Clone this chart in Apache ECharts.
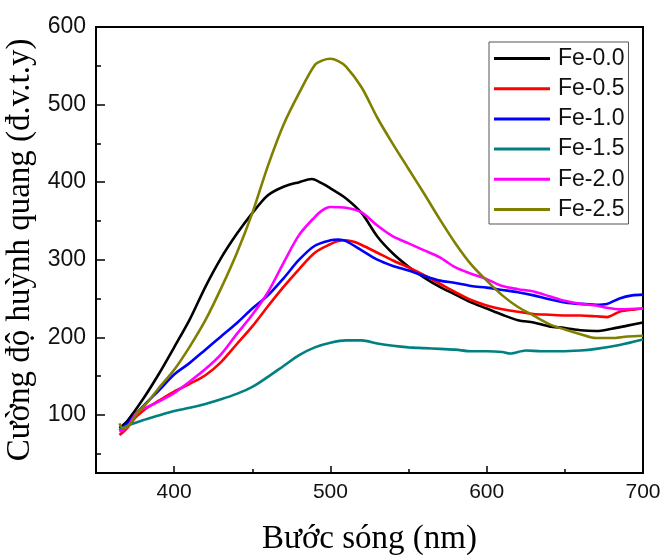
<!DOCTYPE html>
<html>
<head>
<meta charset="utf-8">
<script src="https://cdn.jsdelivr.net/npm/echarts@6/dist/echarts.min.js"></script>
<style>
html,body{margin:0;padding:0;background:#fff;}
#chart{width:664px;height:555px;}
</style>
</head>
<body>
<div id="chart"></div>
<script>
const seriesNames = ['Fe-0.0','Fe-0.5','Fe-1.0','Fe-1.5','Fe-2.0','Fe-2.5'];

const wlFe00 = [365,370,380,390,400,410,420,430,440,450,460,470,480,488,495,500,510,520,530,540,550,560,570,580,590,600,610,620,630,640,650,660,670,680,690,700];
const valFe00 = [83,92,120,152,187,223,265,302,333,360,383,394,400,404,398,392,379,360,330,308,291,277,265,255,245,237,229,222,219,214,212,209,208,211,215,219];

const wlFe05 = [365,370,375,380,385,390,395,400,410,420,430,440,450,460,470,480,490,500,505,510,515,520,530,540,550,560,570,580,590,600,610,620,630,640,650,660,670,677,685,695,700];
const valFe05 = [74,83,96,105,112,118,124,130,140,151,168,191,214,240,265,288,309,320,324,325,323,319,309,299,290,280,269,258,248,241,236,233,230,229,228,228,227,226,233,236,237];

const wlFe10 = [365,370,380,390,400,410,420,430,440,450,460,470,480,490,500,505,510,520,530,540,550,560,570,580,590,600,610,620,630,640,650,660,670,677,685,693,700];
const valFe10 = [80,89,111,131,152,167,184,201,218,237,254,276,300,318,325,326,324,312,300,292,286,279,273,270,266,264,261,258,254,249,245,243,242,243,250,254,255];

const wlFe15 = [365,370,380,390,400,410,420,430,440,450,460,470,480,490,500,510,520,530,540,550,560,570,580,590,600,610,615,625,635,647,660,670,685,700];
const valFe15 = [80,86,93,99,105,109,114,120,127,136,149,163,177,187,193,196,196,192,189,187,186,185,184,182,182,181,179,183,182,182,183,185,190,197];

const wlFe20 = [365,370,375,378,385,390,400,410,420,430,440,450,460,470,480,490,495,500,510,520,530,540,550,560,570,580,590,600,610,620,630,640,650,660,670,677,685,700];
const valFe20 = [78,84,100,106,112,117,128,143,159,178,204,229,258,296,332,355,364,368,367,361,344,330,321,312,303,290,282,275,266,262,259,253,247,243,241,238,236,237];

const wlFe25 = [365,367,371,376,382,390,400,410,420,430,440,450,460,470,480,490,495,500,505,510,520,530,540,550,560,570,580,590,600,610,620,630,640,650,660,670,680,690,700];
const valFe25 = [89,83,86,101,114,134,158,188,222,263,308,360,421,474,515,551,557,559,556,549,522,483,449,417,385,352,321,294,273,254,239,228,217,210,204,199,199,201,202];

const xTicks = [400,500,600,700];
const yTicks = [100,200,300,400,500,600];

const colors = ['#000000','#ff0000','#0000ff','#008080','#ff00ff','#808000'];
const wls = [wlFe00,wlFe05,wlFe10,wlFe15,wlFe20,wlFe25];
const vals = [valFe00,valFe05,valFe10,valFe15,valFe20,valFe25];

const sans = 'Liberation Sans, Arial, sans-serif';
const serif = 'Liberation Serif, Times New Roman, serif';

const chart = echarts.init(document.getElementById('chart'), null, {renderer:'canvas'});
chart.setOption({
  animation: false,
  backgroundColor: '#fff',
  grid: {left: 96, top: 27, right: 21, bottom: 82, containLabel: false, outerBoundsMode: 'none',
    show: true, borderColor: '#000', borderWidth: 2, backgroundColor: 'transparent'},
  legend: {
    orient: 'vertical', left: 489, top: 42,
    data: seriesNames,
    icon: 'rect', itemWidth: 56, itemHeight: 3, itemGap: 7.2,
    padding: [5, 4, 3, 5],
    borderColor: '#555', borderWidth: 1,
    textStyle: {fontFamily: sans, fontSize: 23, color: '#111', padding: [0,0,0,3]}
  },
  xAxis: {
    type: 'value', min: 350, max: 700, splitNumber: 4,
    name: 'Bước sóng (nm)', nameLocation: 'middle', nameGap: 50,
    nameTextStyle: {fontFamily: serif, fontSize: 33, color: '#000'},
    axisLine: {lineStyle: {color: '#000', width: 2}},
    axisTick: {inside: true, length: 7, lineStyle: {color: '#000', width: 1.5}},
    minorTick: {show: true, splitNumber: 2, length: 4, lineStyle: {color: '#000', width: 1.5}},
    splitLine: {show: false},
    axisLabel: {fontFamily: sans, fontSize: 21, color: '#111', margin: 9,
      formatter: v => xTicks.indexOf(v) >= 0 ? String(v) : ''}
  },
  yAxis: {
    type: 'value', min: 25, max: 600, splitNumber: 6,
    name: 'Cường độ huỳnh quang (đ.v.t.y)', nameLocation: 'middle', nameGap: 49,
    nameTextStyle: {fontFamily: serif, fontSize: 33, color: '#000'},
    axisLine: {lineStyle: {color: '#000', width: 2}},
    axisTick: {inside: true, length: 9, lineStyle: {color: '#000', width: 1.5}},
    minorTick: {show: true, splitNumber: 2, length: 5, lineStyle: {color: '#000', width: 1.5}},
    splitLine: {show: false},
    axisLabel: {fontFamily: sans, fontSize: 23, color: '#111', margin: 10,
      formatter: v => yTicks.indexOf(v) >= 0 ? String(v) : ''}
  },
  series: seriesNames.map((n, i) => ({
    name: n, type: 'line', symbol: 'none', smooth: 0.3,
    data: wls[i].map((w, j) => [w, vals[i][j]]),
    lineStyle: {color: colors[i], width: 2.6},
    itemStyle: {color: colors[i]}
  }))
});
</script>
</body>
</html>
